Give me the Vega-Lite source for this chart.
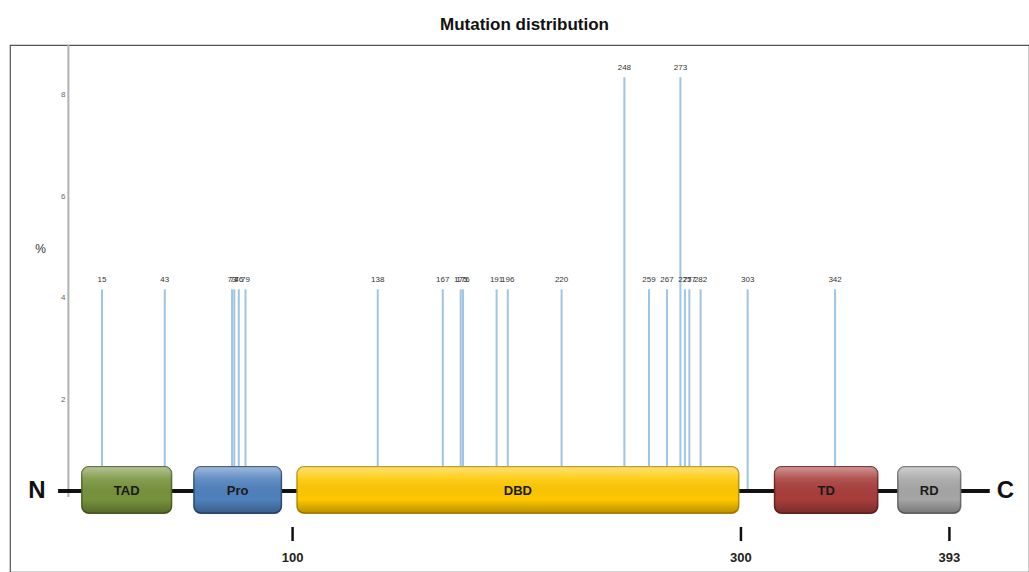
{
  "$schema": "https://vega.github.io/schema/vega-lite/v6.json",
  "autosize": "none",
  "width": 1019,
  "height": 527,
  "padding": {"left": 10, "top": 45, "right": 0, "bottom": 0},
  "background": "white",
  "config": {"view": {"stroke": "#555", "strokeWidth": 1.2}, "font": "Liberation Sans"},
  "title": {"text": "Mutation distribution", "fontSize": 17, "fontWeight": "bold", "color": "#111", "offset": 10, "dx": 5, "font": "Liberation Sans"},
  "datasets": {
    "mutations": [
      {"pos": 15, "pct": 4.17}, {"pos": 43, "pct": 4.17}, {"pos": 73, "pct": 4.17}, {"pos": 74, "pct": 4.17},
      {"pos": 76, "pct": 4.17}, {"pos": 79, "pct": 4.17}, {"pos": 138, "pct": 4.17}, {"pos": 167, "pct": 4.17},
      {"pos": 175, "pct": 4.17}, {"pos": 176, "pct": 4.17}, {"pos": 191, "pct": 4.17}, {"pos": 196, "pct": 4.17},
      {"pos": 220, "pct": 4.17}, {"pos": 248, "pct": 8.33}, {"pos": 259, "pct": 4.17}, {"pos": 267, "pct": 4.17},
      {"pos": 273, "pct": 8.33}, {"pos": 275, "pct": 4.17}, {"pos": 277, "pct": 4.17}, {"pos": 282, "pct": 4.17},
      {"pos": 303, "pct": 4.17}, {"pos": 342, "pct": 4.17}
    ],
    "domains": [
      {"name": "TAD", "start": 6, "end": 46, "fill": "#77933c", "edge": "#4f6228"},
      {"name": "Pro", "start": 56, "end": 95, "fill": "#4f81bd", "edge": "#2c4d75"},
      {"name": "DBD", "start": 102, "end": 299, "fill": "#ffc800", "edge": "#b89000"},
      {"name": "TD", "start": 315, "end": 361, "fill": "#a83e3b", "edge": "#6b2321"},
      {"name": "RD", "start": 370, "end": 398, "fill": "#a6a6a6", "edge": "#6b6b6b"}
    ],
    "ticks": [{"pos": 100, "label": "100"}, {"pos": 300, "label": "300"}, {"pos": 393, "label": "393"}],
    "ends": [{"pos": -14, "label": "N"}, {"pos": 418, "label": "C"}],
    "one": [{"k": 1}]
  },
  "encoding": {
    "x": {"type": "quantitative", "scale": {"domain": [-26.05, 428.5], "nice": false, "zero": false}, "axis": null},
    "y": {"type": "quantitative", "scale": {"domain": [-1.373, 8.961], "nice": false, "zero": false}}
  },
  "layer": [
    {
      "data": {"name": "one"},
      "mark": {"type": "rule", "color": "#b0b0b0", "strokeWidth": 2},
      "encoding": {"x": {"datum": 0}, "y": {"datum": 0.1, "axis": {"orient": "left", "offset": -58, "domain": false, "ticks": false, "grid": false, "values": [2, 4, 6, 8], "labelFontSize": 8, "labelColor": "#666", "labelPadding": 3, "title": "%", "titleAngle": 0, "titleFontSize": 12, "titleFontWeight": "normal", "titleColor": "#333", "titleX": -28, "titleY": 203, "titleAlign": "center", "titleBaseline": "middle"}}, "y2": {"datum": 8.961}}
    },
    {
      "data": {"name": "mutations"},
      "mark": {"type": "rule", "color": "#9fc5e2", "strokeWidth": 2},
      "encoding": {"x": {"field": "pos"}, "y": {"field": "pct"}, "y2": {"datum": 0.216}}
    },
    {
      "data": {"name": "mutations"},
      "mark": {"type": "text", "fontSize": 8, "color": "#333", "baseline": "bottom", "dy": -5},
      "encoding": {"x": {"field": "pos"}, "y": {"field": "pct"}, "text": {"field": "pos"}}
    },
    {
      "data": {"name": "one"},
      "mark": {"type": "rule", "color": "#111", "strokeWidth": 4},
      "encoding": {"x": {"datum": -4.6}, "x2": {"datum": 411}, "y": {"datum": 0.216}}
    },
    {
      "data": {"name": "domains"},
      "mark": {"type": "rect", "cornerRadius": 7, "fill": "#999", "opacity": 0.45, "xOffset": 3, "yOffset": 4},
      "encoding": {"x": {"field": "start"}, "x2": {"field": "end"}, "y": {"datum": 0.69}, "y2": {"datum": -0.22}}
    },
    {
      "data": {"name": "domains"},
      "mark": {"type": "rect", "cornerRadius": 7, "strokeWidth": 1.5},
      "encoding": {"x": {"field": "start"}, "x2": {"field": "end"}, "y": {"datum": 0.69}, "y2": {"datum": -0.22}, "fill": {"field": "fill", "type": "nominal", "scale": null}, "stroke": {"field": "edge", "type": "nominal", "scale": null}}
    },
    {
      "data": {"name": "domains"},
      "mark": {"type": "rect", "cornerRadius": 7, "strokeWidth": 0, "fill": {"gradient": "linear", "x1": 0, "y1": 0, "x2": 0, "y2": 1, "stops": [{"offset": 0, "color": "rgba(255,255,255,0.45)"}, {"offset": 0.25, "color": "rgba(255,255,255,0.12)"}, {"offset": 0.7, "color": "rgba(0,0,0,0)"}, {"offset": 1, "color": "rgba(0,0,0,0.28)"}]}},
      "encoding": {"x": {"field": "start"}, "x2": {"field": "end"}, "y": {"datum": 0.69}, "y2": {"datum": -0.22}}
    },
    {
      "data": {"name": "domains"},
      "transform": [{"calculate": "(datum.start + datum.end) / 2", "as": "mid"}],
      "mark": {"type": "text", "fontSize": 13, "fontWeight": "bold", "color": "#1a1a1a", "baseline": "middle"},
      "encoding": {"x": {"field": "mid"}, "y": {"datum": 0.216}, "text": {"field": "name"}}
    },
    {
      "data": {"name": "ticks"},
      "mark": {"type": "rule", "color": "#111", "strokeWidth": 2.5},
      "encoding": {"x": {"field": "pos"}, "y": {"datum": -0.49}, "y2": {"datum": -0.765}}
    },
    {
      "data": {"name": "ticks"},
      "mark": {"type": "text", "fontSize": 13, "fontWeight": "bold", "color": "#222", "baseline": "middle"},
      "encoding": {"x": {"field": "pos"}, "y": {"datum": -1.1}, "text": {"field": "label"}}
    },
    {
      "data": {"name": "ends"},
      "mark": {"type": "text", "fontSize": 24, "fontWeight": "bold", "color": "#111", "baseline": "middle"},
      "encoding": {"x": {"field": "pos"}, "y": {"datum": 0.216}, "text": {"field": "label"}}
    }
  ]
}
